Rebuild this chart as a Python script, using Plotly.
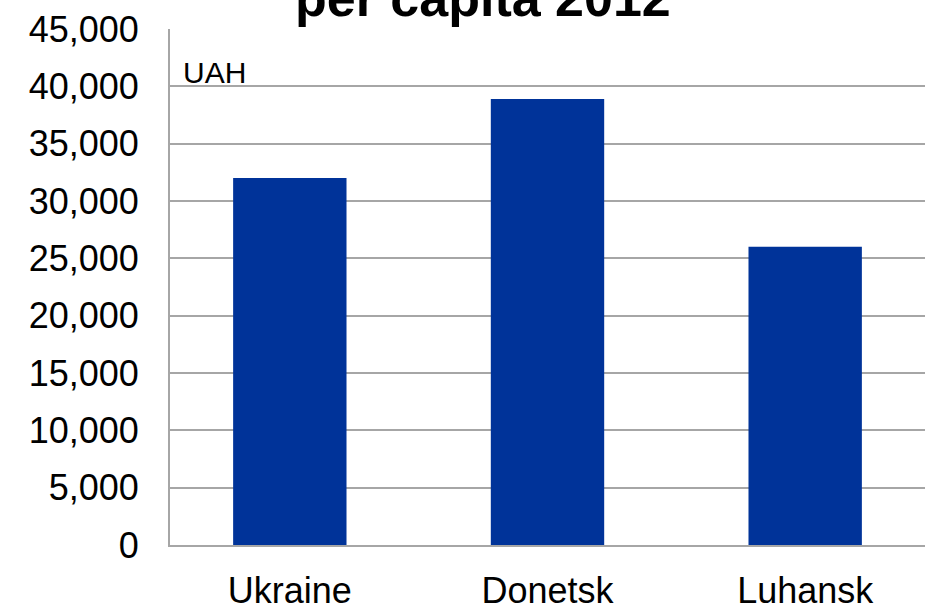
import plotly.graph_objects as go

# GRP per capita 2012, UAH
regions = ["Ukraine", "Donetsk", "Luhansk"]
grp_per_capita = [32000, 38900, 26000]
y_ticks = list(range(0, 45001, 5000))

fig = go.Figure()
fig.add_trace(go.Bar(
    x=regions, y=grp_per_capita,
    width=0.44,
    marker=dict(color="#003399", line=dict(width=0)),
))

fig.update_layout(
    width=925, height=604,
    margin=dict(l=170, r=0, t=29, b=59),
    paper_bgcolor="white", plot_bgcolor="white",
    font=dict(family="Liberation Sans, Arial, sans-serif", color="black"),
    showlegend=False,
)

fig.update_xaxes(
    range=[-0.465, 2.465],
    automargin=False,
    showgrid=False,
    showline=True, linecolor="#a6a6a6", linewidth=2,
    ticks="", tickfont=dict(size=36),
    ticklabelstandoff=13,
)
fig.update_yaxes(
    range=[0, 45000],
    automargin=False,
    tickvals=y_ticks, tickformat=",",
    showgrid=True, gridcolor="#a6a6a6", gridwidth=1.5,
    showline=True, linecolor="#a6a6a6", linewidth=2,
    zeroline=False,
    ticks="", tickfont=dict(size=36),
    ticklabelstandoff=22,
)

# unit label inside the plot
fig.add_annotation(
    text="UAH", xref="paper", yref="y", x=0.015, y=41200,
    xanchor="left", yanchor="middle", showarrow=False,
    font=dict(size=30),
)

# title, mostly cut off at the top
fig.add_annotation(
    text="<b>per capita 2012</b>", xref="paper", yref="paper",
    x=0.415, y=1.0, xanchor="center", yanchor="bottom",
    showarrow=False, font=dict(size=52),
)

fig.write_html(
    "out.html",
    config={"displayModeBar": False},
    post_script="document.body.style.margin='0';document.body.style.overflow='hidden';",
)
